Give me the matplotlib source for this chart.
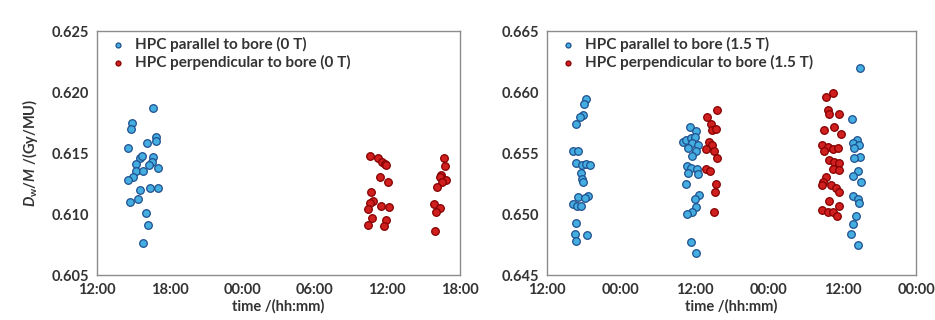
import matplotlib
matplotlib.use("Agg")
import matplotlib.pyplot as plt

plt.rcParams['font.family'] = ['Lato', 'DejaVu Sans']
plt.rcParams['mathtext.fontset'] = 'custom'
plt.rcParams['mathtext.it'] = 'Lato:italic:bold'
plt.rcParams['mathtext.rm'] = 'Lato:bold'

# hours counted from 12:00 on the first day
# ---- left panel (0 T)
par0_t = [4.60, 2.92, 2.81, 4.11, 4.85, 4.88, 2.56, 3.55, 4.65, 4.52, 3.22, 5.07,
          3.22, 3.83, 3.00, 2.59, 3.55, 4.38, 5.02, 2.73, 3.36, 4.05, 4.24, 3.83,
          3.70, 4.30]
par0_v = [0.6187, 0.6175, 0.6170, 0.6158, 0.6163, 0.6160, 0.6154, 0.6146, 0.6147,
          0.6143, 0.6141, 0.6138, 0.6135, 0.6135, 0.6130, 0.6128, 0.6120, 0.6121,
          0.6121, 0.6110, 0.6112, 0.6101, 0.6091, 0.6076, 0.6148, 0.6140]
perp0_t = [22.56, 23.25, 23.61, 23.80, 23.94, 23.39, 24.07, 22.70, 22.84, 22.62,
           22.42, 23.45, 24.16, 22.75, 22.42, 23.88, 23.74,
           28.68, 28.76, 28.49, 28.35, 28.84, 28.57, 28.16, 27.88, 28.35, 28.07, 27.99]
perp0_v = [0.6148, 0.6146, 0.6143, 0.6141, 0.6140, 0.6130, 0.6126, 0.6118, 0.6111,
           0.6109, 0.6104, 0.6107, 0.6106, 0.6097, 0.6091, 0.6095, 0.6090,
           0.6146, 0.6139, 0.6132, 0.6130, 0.6128, 0.6126, 0.6122, 0.6108, 0.6105,
           0.6102, 0.6086]

# ---- right panel (1.5 T)
par15_t = [6.29, 6.02, 5.85, 5.32, 4.76, 4.23, 5.09, 4.67, 5.64, 6.39, 6.94, 5.48,
           5.74, 5.85, 5.09, 6.67, 6.18, 4.23, 4.93, 5.48, 4.67, 4.55, 4.67, 6.55,
           23.20, 24.28, 22.11, 22.55, 23.37, 24.07, 23.63, 24.60, 22.98, 24.18,
           23.63, 22.81, 23.37, 24.44, 22.98, 24.60, 22.65, 24.72, 24.07, 24.28,
           23.63, 22.81, 23.46, 24.18,
           50.89, 49.54, 50.29, 49.64, 50.73, 49.92, 50.85, 49.92, 50.46, 49.64,
           51.01, 49.64, 50.46, 50.73, 50.20, 49.76, 49.38, 50.46]
par15_v = [0.6594, 0.6590, 0.6581, 0.6580, 0.6574, 0.6552, 0.6552, 0.6542, 0.6540,
           0.6541, 0.6540, 0.6534, 0.6529, 0.6526, 0.6514, 0.6515, 0.6513, 0.6508,
           0.6507, 0.6507, 0.6493, 0.6484, 0.6478, 0.6483,
           0.6571, 0.6568, 0.6559, 0.6561, 0.6562, 0.6563, 0.6558, 0.6557, 0.6554,
           0.6552, 0.6548, 0.6539, 0.6538, 0.6537, 0.6534, 0.6533, 0.6525, 0.6516,
           0.6512, 0.6506, 0.6502, 0.6500, 0.6477, 0.6468,
           0.6620, 0.6578, 0.6561, 0.6558, 0.6557, 0.6554, 0.6547, 0.6546, 0.6535,
           0.6531, 0.6526, 0.6515, 0.6512, 0.6509, 0.6498, 0.6492, 0.6484, 0.6475]
perp15_t = [27.69, 26.07, 26.62, 26.88, 27.53, 26.34, 26.78, 25.90, 27.15, 27.59,
            25.80, 26.46, 27.53, 27.32, 27.15,
            46.39, 45.32, 45.58, 45.74, 47.37, 45.04, 46.67, 47.76, 44.76, 45.58,
            46.39, 47.20, 45.04, 45.85, 46.67, 47.48, 46.39, 47.37, 45.32, 44.88,
            46.13, 46.94, 47.48, 44.76, 45.85, 47.48, 44.76, 45.58, 46.39, 47.04]
perp15_v = [0.6585, 0.6580, 0.6574, 0.6569, 0.6570, 0.6559, 0.6557, 0.6553, 0.6552,
            0.6546, 0.6537, 0.6535, 0.6525, 0.6518, 0.6502,
            0.6599, 0.6596, 0.6585, 0.6582, 0.6582, 0.6569, 0.6571, 0.6566, 0.6557,
            0.6555, 0.6553, 0.6554, 0.6552, 0.6544, 0.6543, 0.6542, 0.6537, 0.6536,
            0.6530, 0.6526, 0.6524, 0.6521, 0.6518, 0.6524, 0.6511, 0.6507, 0.6503,
            0.6502, 0.6502, 0.6498]

left_ticks = [0, 6, 12, 18, 24, 30]
left_labels = ["12:00", "18:00", "00:00", "06:00", "12:00", "18:00"]
right_ticks = [0, 12, 24, 36, 48, 60]
right_labels = ["12:00", "00:00", "12:00", "00:00", "12:00", "00:00"]

blue_face, blue_edge = "#45aee0", "#1f4f8f"
red_face, red_edge = "#d01f1f", "#850000"
txt = "#333333"

fig = plt.figure(figsize=(9.35, 3.2), dpi=100)
ax1 = fig.add_axes([0.1037, 0.1406, 0.388, 0.762])
ax2 = fig.add_axes([0.585, 0.1406, 0.395, 0.762])

ax1.scatter(par0_t, par0_v, s=30, c=blue_face, edgecolors=blue_edge, linewidths=0.9,
            label="HPC parallel to bore (0 T)", zorder=3)
ax1.scatter(perp0_t, perp0_v, s=30, c=red_face, edgecolors=red_edge, linewidths=0.9,
            label="HPC perpendicular to bore (0 T)", zorder=3)
ax2.scatter(par15_t, par15_v, s=30, c=blue_face, edgecolors=blue_edge, linewidths=0.9,
            label="HPC parallel to bore (1.5 T)", zorder=3)
ax2.scatter(perp15_t, perp15_v, s=30, c=red_face, edgecolors=red_edge, linewidths=0.9,
            label="HPC perpendicular to bore (1.5 T)", zorder=3)

ax1.set_xlim(0, 30)
ax1.set_ylim(0.605, 0.625)
ax1.set_xticks(left_ticks)
ax1.set_xticklabels(left_labels)
ax1.set_yticks([0.605, 0.610, 0.615, 0.620, 0.625])
ax1.set_yticklabels(["0.605", "0.610", "0.615", "0.620", "0.625"])

ax2.set_xlim(0, 60)
ax2.set_ylim(0.645, 0.665)
ax2.set_xticks(right_ticks)
ax2.set_xticklabels(right_labels)
ax2.set_yticks([0.645, 0.650, 0.655, 0.660, 0.665])
ax2.set_yticklabels(["0.645", "0.650", "0.655", "0.660", "0.665"])

for ax in (ax1, ax2):
    for sp in ax.spines.values():
        sp.set_color("#8c8c8c")
        sp.set_linewidth(1.0)
    ax.tick_params(length=0, pad=6, labelsize=10.5, colors=txt)
    for lab in ax.get_xticklabels() + ax.get_yticklabels():
        lab.set_fontweight("bold")
    ax.set_xlabel("time /(hh:mm)", fontsize=10.5, fontweight="bold", color=txt, labelpad=1)
    leg = ax.legend(loc="upper left", frameon=False, markerscale=0.65,
                    handletextpad=0.1, borderaxespad=0.2, labelspacing=0.2,
                    borderpad=0.2, prop={"weight": "bold", "size": 11})
    for t in leg.get_texts():
        t.set_color(txt)

ax1.set_ylabel(r"$D_\mathregular{w}$/$M$ /(Gy/MU)", fontsize=10.5, fontweight="bold",
               color=txt, labelpad=8)

fig.savefig("out.png", dpi=100, facecolor="white")
